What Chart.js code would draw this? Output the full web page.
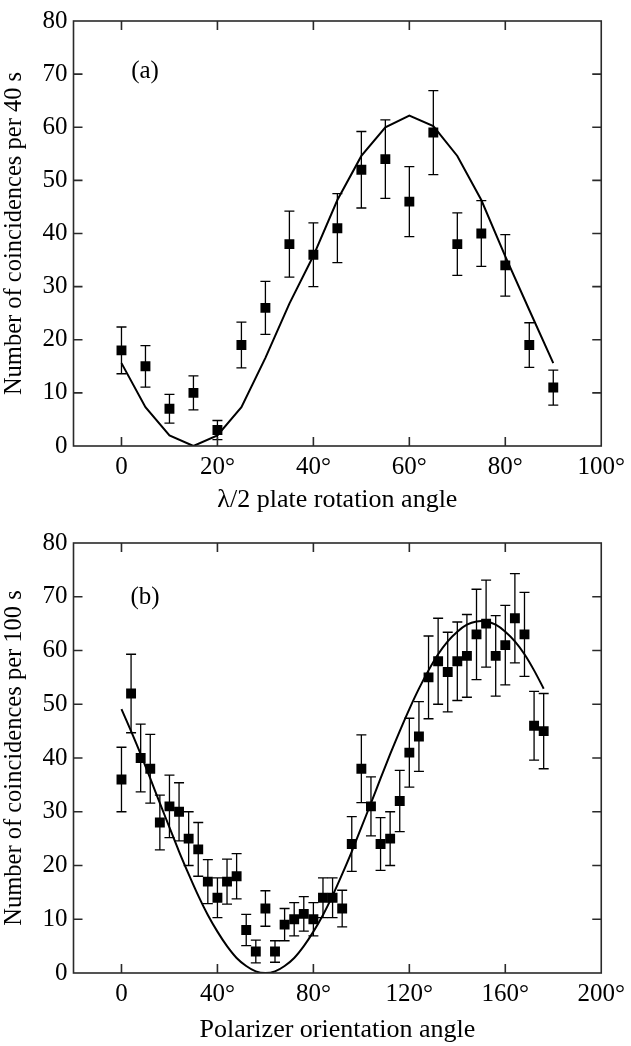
<!DOCTYPE html>
<html>
<head>
<meta charset="utf-8">
<script src="https://cdn.jsdelivr.net/npm/chart.js@4.4.1/dist/chart.umd.min.js"></script>
<style>
  html, body { margin: 0; padding: 0; background: #fff; }
  #wrap { position: relative; width: 631px; height: 1046px; }
  canvas { position: absolute; left: 0; }
  #ca { top: 0; }
  #cb { top: 520px; }
</style>
</head>
<body>
<div id="wrap">
  <canvas id="ca" width="631" height="520"></canvas>
  <canvas id="cb" width="631" height="526"></canvas>
</div>
<script>
// ---------- Panel (a) data ----------
const anglesA = [0, 5, 10, 15, 20, 25, 30, 35, 40, 45, 50, 55, 60, 65, 70, 75, 80, 85, 90];
const countsA = [18, 15, 7, 10, 3, 19, 26, 38, 36, 41, 52, 54, 46, 59, 38, 40, 34, 19, 11];
const errorsA = [4.4, 3.9, 2.7, 3.2, 1.8, 4.3, 5.0, 6.2, 6.0, 6.5, 7.2, 7.4, 6.6, 7.9, 5.9, 6.2, 5.8, 4.2, 3.3];
const fitA    = [15.6, 7.3, 2.0, 0, 2.0, 7.3, 16.6, 26.8, 35.8, 46.3, 54.6, 60.0, 62.2, 60.2, 54.6, 46.3, 35.7, 25.6, 15.6];
const ticksXA = [0, 20, 40, 60, 80, 100];

// ---------- Panel (b) data ----------
const anglesB = [0, 4, 8, 12, 16, 20, 24, 28, 32, 36, 40, 44, 48, 52, 56, 60, 64, 68, 72, 76, 80, 84, 88, 92,
                 96, 100, 104, 108, 112, 116, 120, 124, 128, 132, 136, 140, 144, 148, 152, 156, 160, 164, 168, 172, 176];
const countsB = [36, 52, 40, 38, 28, 31, 30, 25, 23, 17, 14, 17, 18, 8, 4, 12, 4, 9, 10, 11, 10, 14, 14, 12,
                 24, 38, 31, 24, 25, 32, 41, 44, 55, 58, 56, 58, 59, 63, 65, 59, 61, 66, 63, 46, 45];
const errorsB = [6.0, 7.3, 6.3, 6.4, 5.1, 5.8, 5.4, 5.0, 5.0, 4.1, 3.7, 4.2, 4.2, 2.9, 2.1, 3.3, 2.0, 3.0, 3.1, 3.2, 3.1, 3.7, 3.7, 3.4,
                 5.1, 6.3, 5.5, 4.9, 5.0, 5.7, 6.4, 6.5, 7.7, 8.0, 7.4, 7.3, 7.7, 8.4, 8.1, 7.5, 7.4, 8.3, 7.8, 6.4, 7.0];
const fitB    = [49.1, 45.0, 40.7, 36.2, 31.6, 27.1, 22.6, 18.4, 14.4, 10.8, 7.7, 5.0, 2.8, 1.3, 0.3, 0, 0.3, 1.3, 2.8, 5.0, 7.7, 10.8, 14.4, 18.4,
                 22.6, 27.1, 31.6, 36.2, 40.7, 45.0, 49.1, 52.9, 56.3, 59.3, 61.7, 63.5, 64.8, 65.4, 65.4, 64.8, 63.5, 61.7, 59.3, 56.3, 52.9];
const ticksXB = [0, 40, 80, 120, 160, 200];

const ticksY = [0, 10, 20, 30, 40, 50, 60, 70, 80];

// ---------- shared style ----------
const SERIF = "'Liberation Serif', 'DejaVu Serif', serif";
const TICK_FONT = { family: SERIF, size: 25 };
const TITLE_FONT = { family: SERIF, size: 26 };
const YTITLE_FONT = { family: SERIF, size: 24.5 };

const toXY = (xs, ys) => xs.map((x, i) => ({ x: x, y: ys[i] }));
const degLabel = v => (v === 0 ? '0' : v + '\u00B0');

const frameAndErrors = {
  id: 'frameAndErrors',
  beforeDatasetsDraw(chart) {
    const { ctx, scales: { x, y } } = chart;
    ctx.save();
    ctx.strokeStyle = '#000';
    ctx.lineWidth = 1.3;
    chart.data.datasets.forEach(ds => {
      if (!ds.errorBars) return;
      ds.data.forEach((p, i) => {
        const e = ds.errorBars[i];
        const px = x.getPixelForValue(p.x);
        const pt = y.getPixelForValue(p.y + e);
        const pb = y.getPixelForValue(p.y - e);
        ctx.beginPath();
        ctx.moveTo(px, pt); ctx.lineTo(px, pb);
        ctx.moveTo(px - 5, pt); ctx.lineTo(px + 5, pt);
        ctx.moveTo(px - 5, pb); ctx.lineTo(px + 5, pb);
        ctx.stroke();
      });
    });
    ctx.restore();
  },
  afterDraw(chart, args, opts) {
    const { ctx, chartArea: a, scales: { x, y } } = chart;
    ctx.save();
    ctx.strokeStyle = '#2a2a2a';
    ctx.lineWidth = 1.6;
    ctx.strokeRect(a.left, a.top, a.right - a.left, a.bottom - a.top);
    const L = 9;
    ctx.beginPath();
    x.ticks.forEach(t => {
      const px = x.getPixelForValue(t.value);
      if (px <= a.left + 1 || px >= a.right - 1) return;
      ctx.moveTo(px, a.bottom); ctx.lineTo(px, a.bottom - L);
      ctx.moveTo(px, a.top); ctx.lineTo(px, a.top + L);
    });
    y.ticks.forEach(t => {
      const py = y.getPixelForValue(t.value);
      if (py <= a.top + 1 || py >= a.bottom - 1) return;
      ctx.moveTo(a.left, py); ctx.lineTo(a.left + L, py);
      ctx.moveTo(a.right, py); ctx.lineTo(a.right - L, py);
    });
    ctx.stroke();
    if (opts.label) {
      ctx.fillStyle = '#000';
      ctx.font = "25px " + SERIF;
      ctx.textAlign = 'center';
      ctx.textBaseline = 'middle';
      ctx.fillText(opts.label, opts.lx, opts.ly);
    }
    ctx.restore();
  }
};

function makeChart(canvasId, cfg) {
  return new Chart(document.getElementById(canvasId), {
    type: 'scatter',
    data: {
      datasets: [
        {
          label: 'fit',
          data: toXY(cfg.angles.fitX, cfg.fit),
          showLine: true,
          borderColor: '#000',
          borderWidth: 2,
          pointRadius: 0,
          tension: cfg.tension,
          order: 1
        },
        {
          label: 'data',
          data: toXY(cfg.angles.dataX, cfg.counts),
          errorBars: cfg.errors,
          pointStyle: 'rect',
          pointRadius: 7,
          backgroundColor: '#000',
          borderColor: '#000',
          borderWidth: 0,
          order: 0
        }
      ]
    },
    options: {
      responsive: false,
      animation: false,
      events: [],
      layout: { padding: { left: 0, right: 25, top: cfg.padTop, bottom: 0 } },
      plugins: {
        legend: { display: false },
        tooltip: { enabled: false },
        frameAndErrors: { label: cfg.label, lx: 145, ly: cfg.labelY }
      },
      scales: {
        x: {
          type: 'linear',
          min: cfg.xmin, max: cfg.xmax,
          afterBuildTicks: s => { s.ticks = cfg.xticks.map(v => ({ value: v })); },
          afterFit: s => { s.height = cfg.xHeight; },
          grid: { display: false, drawTicks: false },
          border: { display: false },
          ticks: { font: TICK_FONT, color: '#000', padding: 6, maxRotation: 0, autoSkip: false, callback: v => degLabel(v) },
          title: { display: true, text: cfg.xtitle, font: TITLE_FONT, color: '#000', padding: { top: 0, bottom: cfg.titlePad } }
        },
        y: {
          type: 'linear',
          min: 0, max: 80,
          afterBuildTicks: s => { s.ticks = ticksY.map(v => ({ value: v })); },
          afterFit: s => { s.width = 73.5; },
          grid: { display: false, drawTicks: false },
          border: { display: false },
          ticks: { font: TICK_FONT, color: '#000', padding: 6, autoSkip: false },
          title: { display: true, text: cfg.ytitle, font: YTITLE_FONT, color: '#000', padding: 0 }
        }
      }
    },
    plugins: [frameAndErrors]
  });
}

makeChart('ca', {
  angles: { fitX: anglesA, dataX: anglesA },
  fit: fitA, counts: countsA, errors: errorsA,
  tension: 0, xmin: -10, xmax: 100, xticks: ticksXA,
  xHeight: 74, padTop: 15, titlePad: 4,
  xtitle: '\u03BB/2 plate rotation angle',
  ytitle: 'Number of coincidences per 40 s',
  label: '(a)', labelY: 71
});

makeChart('cb', {
  angles: { fitX: anglesB, dataX: anglesB },
  fit: fitB, counts: countsB, errors: errorsB,
  tension: 0.3, xmin: -20, xmax: 200, xticks: ticksXB,
  xHeight: 73, padTop: 23, titlePad: 0,
  xtitle: 'Polarizer orientation angle',
  ytitle: 'Number of coincidences per 100 s',
  label: '(b)', labelY: 77
});
</script>
</body>
</html>
